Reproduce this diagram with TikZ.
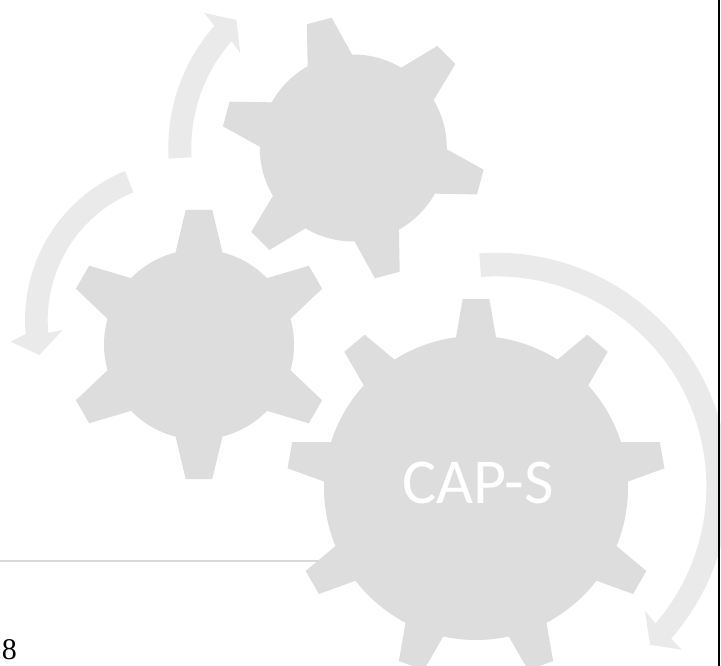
\documentclass[tikz,border=0pt]{standalone}
\usepackage{fontspec}
\setmainfont{Liberation Serif}
\newfontfamily\capfont{Carlito}
\definecolor{gearfill}{HTML}{DDDDDD}
\definecolor{arrowfill}{HTML}{EAEAEA}
\definecolor{rulegray}{HTML}{D9D9D9}
\tikzset{
  gearpart/.style={fill=gearfill,draw=none},
  arrowband/.style={fill=arrowfill,draw=none},
  footrule/.style={draw=rulegray,line width=1.2pt},
  edgebar/.style={fill=black,draw=none},
  geartext/.style={text=white,font=\capfont\fontsize{48}{48}\selectfont,inner sep=0pt},
  pagenum/.style={text=black,font=\fontsize{22.5}{22.5}\selectfont,inner sep=0pt,anchor=base west}
}
% #1 centre x, #2 centre y, #3 body r, #4 tip r, #5 tip half width, #6 base half width, #7 start angle, #8 teeth
\newcommand{\mygear}[8]{%
  \fill[gearpart] (#1,#2) circle[radius=#3];
  \pgfmathsetmacro{\mystep}{360/#8}
  \foreach \i in {1,...,#8}{
    \pgfmathsetmacro{\ang}{#7+(\i-1)*\mystep}
    \begin{scope}[shift={(#1,#2)},rotate=\ang]
      \fill[gearpart] (#3-6,-#6-1) -- (#3-1,-#6) -- (#4,-#5) -- (#4,#5) -- (#3-1,#6) -- (#3-6,#6+1) -- cycle;
    \end{scope}
  }%
}
\begin{document}
\begin{tikzpicture}[x=0.75pt,y=-0.75pt]
\useasboundingbox (0,0) rectangle (721,666);
\fill[white] (0,0) rectangle (721,666);
\begin{scope}
\clip (0,0) rectangle (721,666);
% footer rule
\coordinate (ruleL) at (0,560.7);
\coordinate (ruleR) at (330,560.7);
\draw[footrule] (ruleL) -- (ruleR);
% arrows
\begin{scope}[shift={(353.3,148)}]
\fill[arrowband] (183.3:162pt*0.75) arc[start angle=183.3,end angle=138.7,radius=162pt*0.75]
  -- (140:147.6pt*0.75) -- (132.4:173.4pt*0.75) -- (137.8:201pt*0.75) -- (138.7:185pt*0.75)
  arc[start angle=138.7,end angle=183.3,radius=185pt*0.75] -- cycle;
\end{scope}
\fill[arrowband] (125,171) arc[start angle=112.3,end angle=185,radius=161*0.75pt]
  -- (10.7,341.7) -- (39.3,355) -- (62.7,330) -- (48.3,333)
  arc[start angle=185.4,end angle=112.3,radius=138*0.75pt] -- cycle;
\fill[arrowband] (481,277) arc[start angle=94.2,end angle=-40.7,radius=210*0.75pt]
  -- (645,611) -- (650,644.7) -- (681.7,649.7) -- (671,638.7)
  arc[start angle=-41.3,end angle=94.2,radius=232.5*0.75pt] -- cycle;
% gears
\mygear{353.3}{148}{93.5}{131.5}{12.8}{22.5}{105}{6}
\mygear{199}{344.5}{95}{134.5}{13.3}{23}{90}{6}
\mygear{476}{488}{152}{189}{13.3}{20}{90}{9}
\node[geartext] (caplabel) at (478,482.5) {CAP-S};
\node[pagenum] (pageno) at (1.5,659.5) {8};
\fill[edgebar] (717.5,0) rectangle (720,666);
\end{scope}
\end{tikzpicture}
\end{document}
